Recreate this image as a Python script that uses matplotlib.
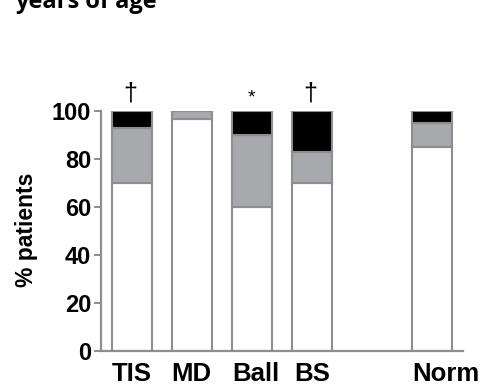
import matplotlib
matplotlib.use("Agg")
import matplotlib.pyplot as plt
import matplotlib.transforms as mtransforms
import numpy as np

categories = ["TIS", "MD", "Ball", "BS", "Norm"]
slots = [0, 1, 2, 3, 5]
white_pct = [70, 96.5, 60, 70, 85]
gray_pct = [23, 3.5, 30, 13, 10]
black_pct = [7, 0, 10, 17, 5]
markers = {"TIS": "\u2020", "Ball": "*", "BS": "\u2020"}
yticks = [0, 20, 40, 60, 80, 100]

W, H = 481, 387
fig = plt.figure(figsize=(W / 100, H / 100), dpi=100)
ax = fig.add_axes([101 / W, 1 - 351 / H, 362 / W, 240 / H])

edge = "#8e8e8e"
x = np.array(slots, dtype=float)
white = np.array(white_pct)
gray = np.array(gray_pct)
black = np.array(black_pct)
bw = 0.667
ax.bar(x, white, bw, color="white", edgecolor=edge, linewidth=1.5)
ax.bar(x, gray, bw, bottom=white, color="#a8a9ac", edgecolor=edge, linewidth=1.5)
ax.bar(x, black, bw, bottom=white + gray, color="black", edgecolor=edge, linewidth=1.5)

ax.set_xlim(-0.51, 5.52)
ax.set_ylim(0, 100)
for s in ("top", "right"):
    ax.spines[s].set_visible(False)
for s in ("left", "bottom"):
    ax.spines[s].set_color(edge)
    ax.spines[s].set_linewidth(1.6)

ax.set_yticks(yticks)
ax.set_yticklabels([str(t) for t in yticks], fontfamily="Liberation Sans",
                   fontweight="bold", fontsize=17)
ax.tick_params(axis="y", length=5, width=1.4, color=edge, pad=2)
ax.set_xticks(x)
ax.set_xticklabels(categories, fontfamily="Liberation Sans",
                   fontweight="bold", fontsize=18.5)
ax.tick_params(axis="x", length=0, pad=8)
# the "Norm" label sits a little right of its bar
for lbl in ax.get_xticklabels():
    if lbl.get_text() == "Norm":
        lbl.set_transform(lbl.get_transform() +
                          mtransforms.ScaledTranslation(14 / 100, 0, fig.dpi_scale_trans))
    elif lbl.get_text() == "Ball":
        lbl.set_transform(lbl.get_transform() +
                          mtransforms.ScaledTranslation(4 / 100, 0, fig.dpi_scale_trans))

fig.text(26 / W, 1 - 230 / H, "% patients", rotation=90, ha="center", va="center",
         fontfamily="Liberation Sans", fontweight="bold", fontsize=16.5)

for cat, xi in zip(categories, x):
    if cat not in markers:
        continue
    if markers[cat] == "*":
        ax.text(xi, 105.3, markers[cat], ha="center", va="center",
                fontsize=14, fontfamily="Liberation Sans", clip_on=False)
    else:
        ax.text(xi - 0.02, 102.5, markers[cat], ha="center", va="bottom",
                fontsize=18, fontfamily="Liberation Sans", clip_on=False)

fig.text(15 / W, 1 - 7.8 / H, "years of age", ha="left", va="baseline",
         fontfamily="Open Sans", fontweight="bold", fontsize=17)

fig.savefig("out.png", dpi=100)
